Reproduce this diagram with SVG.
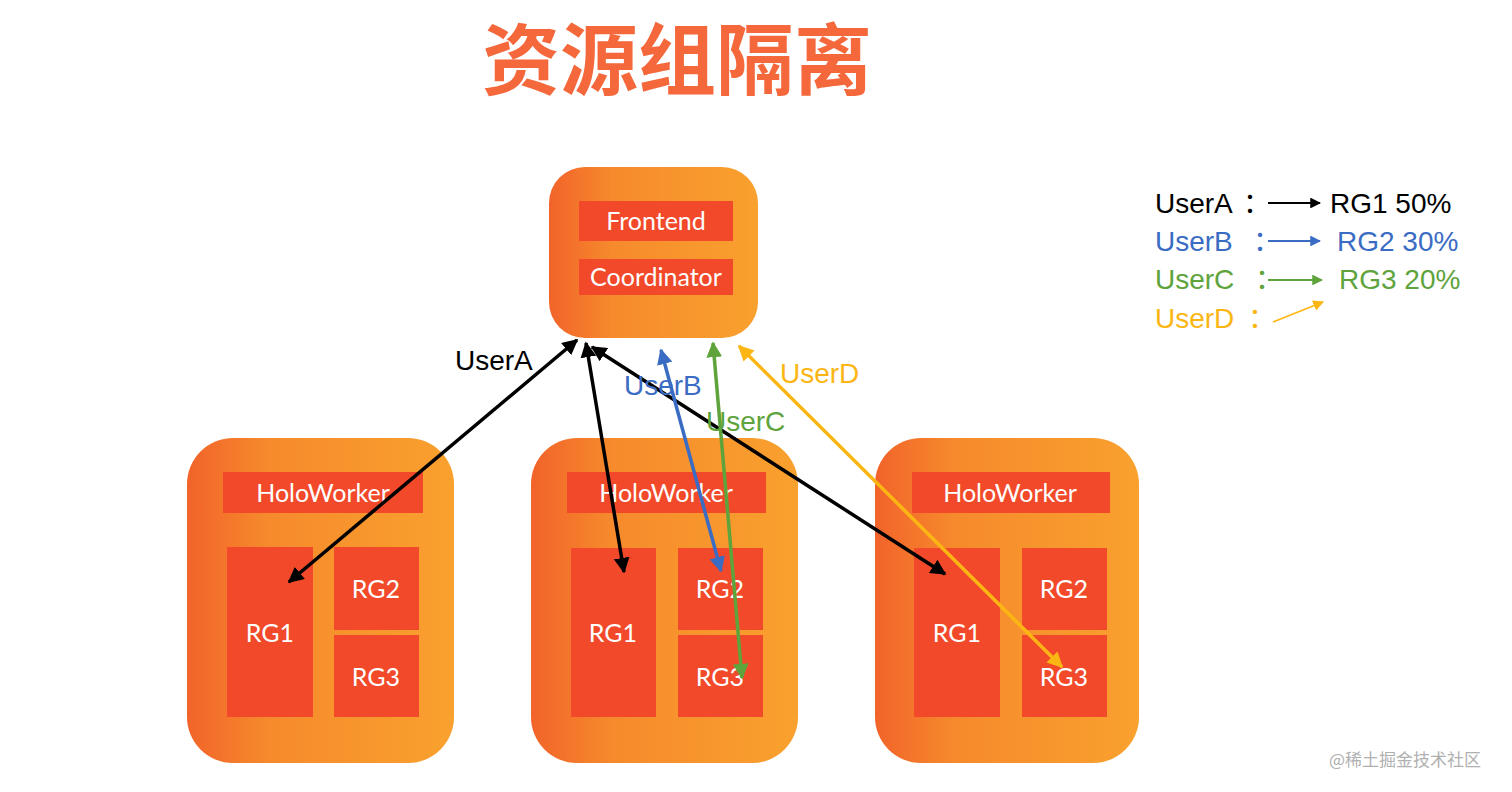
<svg xmlns="http://www.w3.org/2000/svg" width="1512" height="792" viewBox="0 0 1512 792">
<defs>
<linearGradient id="og" x1="0" y1="0" x2="1" y2="0">
<stop offset="0" stop-color="#f2632a"/>
<stop offset="0.3" stop-color="#f68a2c"/>
<stop offset="1" stop-color="#f9a12e"/>
</linearGradient>
<marker id="mk" viewBox="0 0 10 10" refX="9" refY="5" markerWidth="4.5" markerHeight="4.5" orient="auto-start-reverse" markerUnits="strokeWidth"><path d="M0,0 L10,5 L0,10 z" fill="#000"/></marker>
<marker id="mb" viewBox="0 0 10 10" refX="9" refY="5" markerWidth="4.5" markerHeight="4.5" orient="auto-start-reverse" markerUnits="strokeWidth"><path d="M0,0 L10,5 L0,10 z" fill="#3a6cc4"/></marker>
<marker id="mg" viewBox="0 0 10 10" refX="9" refY="5" markerWidth="4.5" markerHeight="4.5" orient="auto-start-reverse" markerUnits="strokeWidth"><path d="M0,0 L10,5 L0,10 z" fill="#5ea33c"/></marker>
<marker id="my" viewBox="0 0 10 10" refX="9" refY="5" markerWidth="4.5" markerHeight="4.5" orient="auto-start-reverse" markerUnits="strokeWidth"><path d="M0,0 L10,5 L0,10 z" fill="#fbb614"/></marker>
<marker id="lk" viewBox="0 0 10 10" refX="9" refY="5" markerWidth="6" markerHeight="6" orient="auto" markerUnits="strokeWidth"><path d="M0,0 L10,5 L0,10 z" fill="#000"/></marker>
<marker id="lb" viewBox="0 0 10 10" refX="9" refY="5" markerWidth="6" markerHeight="6" orient="auto" markerUnits="strokeWidth"><path d="M0,0 L10,5 L0,10 z" fill="#3a6cc4"/></marker>
<marker id="lg" viewBox="0 0 10 10" refX="9" refY="5" markerWidth="6" markerHeight="6" orient="auto" markerUnits="strokeWidth"><path d="M0,0 L10,5 L0,10 z" fill="#5ea33c"/></marker>
<marker id="ly" viewBox="0 0 10 10" refX="9" refY="5" markerWidth="6" markerHeight="6" orient="auto" markerUnits="strokeWidth"><path d="M0,0 L10,5 L0,10 z" fill="#fbb614"/></marker>
</defs>
<style>
.box{fill:url(#og)}
.in{fill:#f2492a}
.wt{fill:#fff;font-family:Lato,"Open Sans",sans-serif;font-size:25px;text-anchor:middle}
.lab{font-family:"Liberation Sans","Noto Sans CJK SC",sans-serif;font-size:28px}
.k{fill:#000}.b{fill:#3a6cc4}.g{fill:#5ea33c}.y{fill:#fbb614}
.con{fill:none;stroke-width:3.5}
</style>
<rect width="1512" height="792" fill="#fff"/>
<text x="677" y="89" font-family="Noto Sans CJK SC,sans-serif" font-weight="bold" font-size="78" fill="#f4683c" text-anchor="middle">资源组隔离</text>

<g id="frontend">
<rect class="box" x="549" y="167" width="209" height="171" rx="36"/>
<rect class="in" x="579" y="201" width="154" height="40"/>
<text class="wt" x="656" y="230">Frontend</text>
<rect class="in" x="579" y="259" width="154" height="36"/>
<text class="wt" x="656" y="286">Coordinator</text>
</g>

<g id="worker1">
<rect class="box" x="187" y="438" width="267" height="325" rx="46"/>
<rect class="in" x="223" y="472" width="200" height="41"/>
<text class="wt" x="323" y="502">HoloWorker</text>
<rect class="in" x="227" y="547" width="86" height="170"/>
<text class="wt" x="270" y="642">RG1</text>
<rect class="in" x="334" y="547" width="85" height="83"/>
<text class="wt" x="376" y="598">RG2</text>
<rect class="in" x="334" y="635" width="85" height="82"/>
<text class="wt" x="376" y="686">RG3</text>
</g>

<g id="worker2">
<rect class="box" x="531" y="438" width="267" height="325" rx="46"/>
<rect class="in" x="567" y="472" width="199" height="41"/>
<text class="wt" x="666" y="502">HoloWorker</text>
<rect class="in" x="571" y="548" width="85" height="169"/>
<text class="wt" x="613" y="642">RG1</text>
<rect class="in" x="678" y="548" width="85" height="82"/>
<text class="wt" x="720" y="598">RG2</text>
<rect class="in" x="678" y="635" width="85" height="82"/>
<text class="wt" x="720" y="686">RG3</text>
</g>

<g id="worker3">
<rect class="box" x="875" y="438" width="264" height="325" rx="46"/>
<rect class="in" x="912" y="472" width="198" height="41"/>
<text class="wt" x="1010" y="502">HoloWorker</text>
<rect class="in" x="914" y="548" width="86" height="169"/>
<text class="wt" x="957" y="642">RG1</text>
<rect class="in" x="1022" y="548" width="85" height="82"/>
<text class="wt" x="1064" y="598">RG2</text>
<rect class="in" x="1022" y="635" width="85" height="82"/>
<text class="wt" x="1064" y="686">RG3</text>
</g>

<g id="connectors">
<line class="con" x1="577" y1="340" x2="289" y2="582" stroke="#000" marker-start="url(#mk)" marker-end="url(#mk)"/>
<line class="con" x1="586" y1="343" x2="624" y2="572" stroke="#000" marker-start="url(#mk)" marker-end="url(#mk)"/>
<line class="con" x1="592" y1="347" x2="945" y2="574" stroke="#000" marker-start="url(#mk)" marker-end="url(#mk)"/>
<line class="con" x1="661" y1="350" x2="721" y2="571" stroke="#3a6cc4" marker-start="url(#mb)" marker-end="url(#mb)"/>
<line class="con" x1="713" y1="343" x2="742" y2="678" stroke="#5ea33c" marker-start="url(#mg)" marker-end="url(#mg)"/>
<line class="con" x1="739" y1="346" x2="1062" y2="667" stroke="#fbb614" marker-start="url(#my)" marker-end="url(#my)"/>
</g>

<text class="lab k" x="455" y="370">UserA</text>
<text class="lab b" x="624" y="395">UserB</text>
<text class="lab g" x="706" y="431">UserC</text>
<text class="lab y" x="780" y="383">UserD</text>

<g id="legend">
<text class="lab k" x="1155" y="213">UserA</text>
<text class="lab k" x="1243" y="213">：</text>
<line x1="1268" y1="203" x2="1320" y2="203" stroke="#000" stroke-width="1.8" marker-end="url(#lk)"/>
<text class="lab k" x="1330" y="213">RG1 50%</text>
<text class="lab b" x="1155" y="251">UserB</text>
<text class="lab b" x="1253" y="251">：</text>
<line x1="1268" y1="241" x2="1320" y2="241" stroke="#3a6cc4" stroke-width="1.8" marker-end="url(#lb)"/>
<text class="lab b" x="1337" y="251">RG2 30%</text>
<text class="lab g" x="1155" y="289">UserC</text>
<text class="lab g" x="1255" y="289">：</text>
<line x1="1268" y1="280" x2="1322" y2="280" stroke="#5ea33c" stroke-width="1.8" marker-end="url(#lg)"/>
<text class="lab g" x="1339" y="289">RG3 20%</text>
<text class="lab y" x="1155" y="328">UserD</text>
<text class="lab y" x="1248" y="328">：</text>
<line x1="1273" y1="322" x2="1323" y2="302" stroke="#fbb614" stroke-width="1.8" marker-end="url(#ly)"/>
</g>

<text x="1329" y="766" font-family="Noto Sans CJK SC,sans-serif" font-size="17" fill="#b0b0b0">@稀土掘金技术社区</text>
</svg>
